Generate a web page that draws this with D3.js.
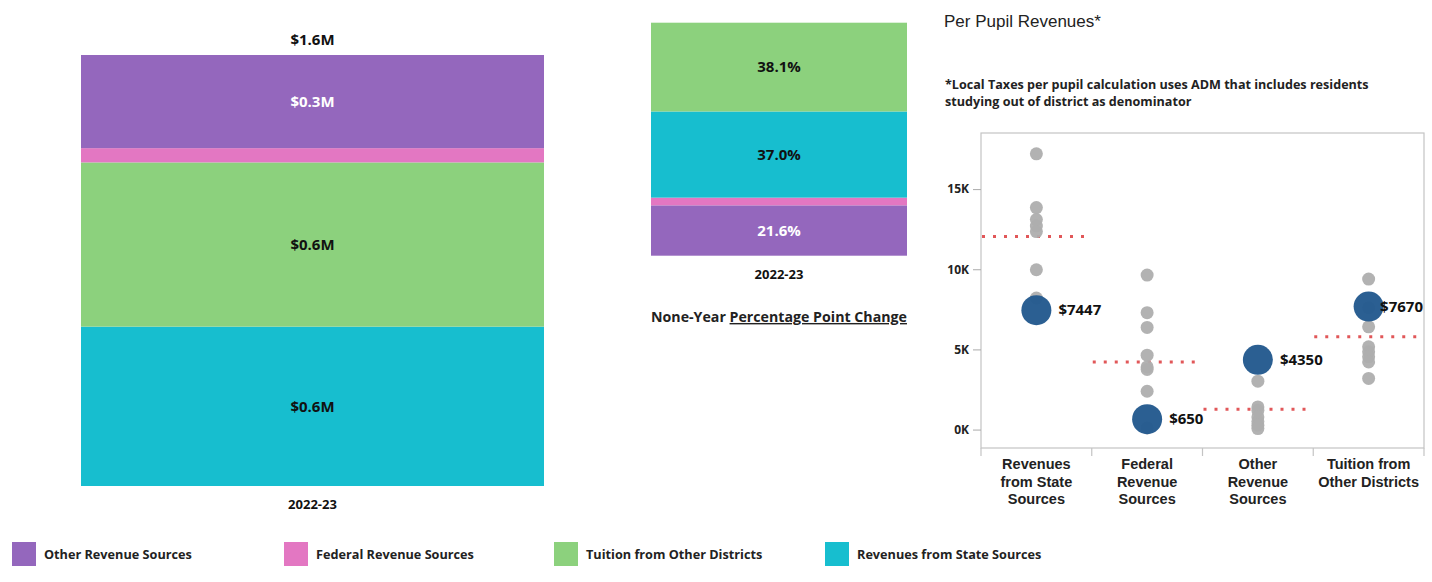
<!DOCTYPE html>
<meta charset="utf-8">
<style>
    body { margin: 0; background: #fff; }
    text { font-family: "Open Sans", Lato, sans-serif; font-weight: bold; }
</style>
<body>
<div id="d3_target"></div>
<script src="https://d3js.org/d3.v7.min.js"></script>
<script>
    // ---- data ----
    var sources = ["Other Revenue Sources", "Federal Revenue Sources", "Tuition from Other Districts", "Revenues from State Sources"];
    var colors = ["#9467bd", "#e377c2", "#8cd17d", "#17becf"];
    var amountsM = [0.346, 0.053, 0.610, 0.592];          // $M, 2022-23
    var shareLabels = ["21.6%", "", "38.1%", "37.0%"];
    var amountLabels = ["$0.3M", "", "$0.6M", "$0.6M"];
    var totalLabel = "$1.6M";
    var year = "2022-23";

    var ppCategories = ["Revenues from State Sources", "Federal Revenue Sources", "Other Revenue Sources", "Tuition from Other Districts"];
    var ppCategoryLines = [["Revenues", "from State", "Sources"], ["Federal", "Revenue", "Sources"], ["Other", "Revenue", "Sources"], ["Tuition from", "Other Districts"]];
    var peerState = [17200, 13850, 13100, 12700, 12350, 9970, 8200];
    var peerFederal = [9640, 7290, 6370, 4640, 3910, 3750, 2390, 100];
    var peerOther = [3020, 1410, 1200, 790, 500, 270, 60];
    var peerTuition = [9390, 7600, 6410, 5160, 4850, 4540, 4220, 3190];
    var districtValues = [7447, 650, 4350, 7670];
    var peerAverages = [12040, 4220, 1270, 5790];
    var yTicks = [0, 5000, 10000, 15000];

    var width = 1432, height = 582;
    var svg = d3.select("#d3_target").append("svg")
        .attr("width", width)
        .attr("height", height);

    // ---- left: stacked amounts ----
    var leftOrder = [3, 2, 1, 0]; // bottom to top: state, tuition, federal, other
    var yLeft = d3.scaleLinear().domain([0, d3.sum(amountsM)]).range([486, 55]);
    var cum = 0;
    var leftSegs = leftOrder.map(function (i) {
        var s = { i: i, y0: cum, y1: cum + amountsM[i] };
        cum += amountsM[i];
        return s;
    });
    var gl = svg.append("g");
    gl.selectAll("rect").data(leftSegs).enter().append("rect")
        .attr("x", 81).attr("width", 463)
        .attr("y", function (d) { return yLeft(d.y1); })
        .attr("height", function (d) { return yLeft(d.y0) - yLeft(d.y1); })
        .attr("fill", function (d) { return colors[d.i]; });
    gl.selectAll("text.seg").data(leftSegs).enter().append("text")
        .attr("class", "seg")
        .attr("x", 312.5)
        .attr("y", function (d) { return (yLeft(d.y0) + yLeft(d.y1)) / 2; })
        .attr("dy", "0.35em").attr("text-anchor", "middle")
        .style("font-size", "15px")
        .attr("fill", function (d) { return d.i === 0 ? "#fff" : "#111"; })
        .text(function (d) { return amountLabels[d.i]; });
    gl.append("text").attr("x", 312.5).attr("y", yLeft(cum) - 15).attr("dy", "0.35em")
        .attr("text-anchor", "middle").style("font-size", "15px").attr("fill", "#111").text(totalLabel);
    gl.append("text").attr("x", 312.5).attr("y", 504).attr("dy", "0.35em")
        .attr("text-anchor", "middle").style("font-size", "13px").attr("fill", "#111").text(year);

    // ---- middle: percent shares ----
    var midOrder = [0, 1, 3, 2]; // bottom to top: other, federal, state, tuition
    var totalM = d3.sum(amountsM);
    var yMid = d3.scaleLinear().domain([0, 1]).range([255.7, 22.7]);
    cum = 0;
    var midSegs = midOrder.map(function (i) {
        var s = { i: i, y0: cum, y1: cum + amountsM[i] / totalM };
        cum += amountsM[i] / totalM;
        return s;
    });
    var gm = svg.append("g");
    gm.selectAll("rect").data(midSegs).enter().append("rect")
        .attr("x", 651).attr("width", 256)
        .attr("y", function (d) { return yMid(d.y1); })
        .attr("height", function (d) { return yMid(d.y0) - yMid(d.y1); })
        .attr("fill", function (d) { return colors[d.i]; });
    gm.selectAll("text.seg").data(midSegs).enter().append("text")
        .attr("class", "seg")
        .attr("x", 779)
        .attr("y", function (d) { return (yMid(d.y0) + yMid(d.y1)) / 2; })
        .attr("dy", "0.35em").attr("text-anchor", "middle")
        .style("font-size", "15px")
        .attr("fill", function (d) { return d.i === 0 ? "#fff" : "#111"; })
        .text(function (d) { return shareLabels[d.i]; });
    gm.append("text").attr("x", 779).attr("y", 274).attr("dy", "0.35em")
        .attr("text-anchor", "middle").style("font-size", "13px").attr("fill", "#111").text(year);
    var sub = gm.append("text").attr("x", 779).attr("y", 317).attr("dy", "0.35em")
        .attr("text-anchor", "middle").style("font-size", "14.2px").attr("fill", "#222");
    sub.append("tspan").text("None-Year ");
    sub.append("tspan").style("text-decoration", "underline").text("Percentage Point Change");

    // ---- right: per pupil scatter ----
    svg.append("text").attr("x", 944).attr("y", 27)
        .style("font-family", "'Liberation Sans', Arial, sans-serif").style("font-weight", "normal")
        .style("font-size", "17px").attr("fill", "#222").text("Per Pupil Revenues*");
    var note = svg.append("text").attr("x", 945).attr("y", 89).style("font-size", "12.6px").attr("fill", "#222");
    note.append("tspan").attr("x", 945).text("*Local Taxes per pupil calculation uses ADM that includes residents");
    note.append("tspan").attr("x", 945).attr("dy", 17).text("studying out of district as denominator");

    var fx0 = 981, fx1 = 1424, fy0 = 133, fy1 = 448;
    var x = d3.scaleBand().domain(ppCategories).range([fx0, fx1]);
    var y = d3.scaleLinear().domain([-1150, 18500]).range([fy1, fy0]);
    var gs = svg.append("g");

    gs.append("rect").attr("x", fx0).attr("y", fy0).attr("width", fx1 - fx0).attr("height", fy1 - fy0)
        .attr("fill", "none").attr("stroke", "#c4c4c4").attr("stroke-width", 1.2);

    var yAxis = gs.append("g").attr("transform", "translate(" + fx0 + ",0)")
        .call(d3.axisLeft(y).tickValues(yTicks).tickSize(8).tickPadding(4)
            .tickFormat(function (d) { return (d / 1000) + "K"; }));
    yAxis.select(".domain").remove();
    yAxis.selectAll("line").attr("stroke", "#aaa");
    yAxis.selectAll("text").style("font-family", "'Open Sans', sans-serif").style("font-weight", "bold")
        .style("font-size", "12px").attr("fill", "#222");

    // x band boundaries
    var bounds = ppCategories.map(function (c) { return x(c); }).concat([fx1]);
    gs.selectAll("line.xb").data(bounds).enter().append("line").attr("class", "xb")
        .attr("x1", function (d) { return d; }).attr("x2", function (d) { return d; })
        .attr("y1", fy1).attr("y2", fy1 + 8).attr("stroke", "#c4c4c4").attr("stroke-width", 1.2);
    ppCategories.forEach(function (c, i) {
        var t = gs.append("text")
            .attr("x", x(c) + x.bandwidth() / 2).attr("y", 469)
            .attr("text-anchor", "middle")
            .style("font-family", "'Liberation Sans', Arial, sans-serif")
            .style("font-size", "14.5px").attr("fill", "#222");
        ppCategoryLines[i].forEach(function (l, j) {
            t.append("tspan").attr("x", x(c) + x.bandwidth() / 2).attr("dy", j === 0 ? 0 : 17.5).text(l);
        });
    });

    // averages
    gs.selectAll("line.avg").data(peerAverages).enter().append("line").attr("class", "avg")
        .attr("x1", function (d, i) { return x(ppCategories[i]) + 1; })
        .attr("x2", function (d, i) { return x(ppCategories[i]) + x.bandwidth(); })
        .attr("y1", function (d) { return y(d); }).attr("y2", function (d) { return y(d); })
        .attr("stroke", "#e15759").attr("stroke-width", 3).attr("stroke-dasharray", "3,8");

    // peers
    var peers = [peerState, peerFederal, peerOther, peerTuition];
    var peerPts = [];
    peers.forEach(function (arr, i) {
        arr.forEach(function (v) { peerPts.push({ c: ppCategories[i], v: v }); });
    });
    gs.selectAll("circle.peer").data(peerPts).enter().append("circle").attr("class", "peer")
        .attr("cx", function (d) { return x(d.c) + x.bandwidth() / 2; })
        .attr("cy", function (d) { return y(d.v); })
        .attr("r", 6.5).attr("fill", "#aeaeae").attr("fill-opacity", 0.95);

    // district
    gs.selectAll("circle.dist").data(districtValues).enter().append("circle").attr("class", "dist")
        .attr("cx", function (d, i) { return x(ppCategories[i]) + x.bandwidth() / 2; })
        .attr("cy", function (d) { return y(d); })
        .attr("r", 15).attr("fill", "#245a8e").attr("fill-opacity", 0.97);
    gs.selectAll("text.dist").data(districtValues).enter().append("text").attr("class", "dist")
        .attr("y", function (d) { return y(d); }).attr("dy", "0.35em")
        .style("font-size", "15px").attr("fill", "#111")
        .text(function (d) { return "$" + d; })
        .attr("x", function (d, i) {
            var cx = x(ppCategories[i]) + x.bandwidth() / 2;
            var w = this.getComputedTextLength();
            return Math.min(cx + 22, fx1 - w - 1);
        });

    // ---- legend ----
    var lg = svg.append("g").selectAll("g").data(sources).enter().append("g")
        .attr("transform", function (d, i) { return "translate(" + [12, 284, 554, 825][i] + ",542)"; });
    lg.append("rect").attr("width", 24).attr("height", 24).attr("fill", function (d, i) { return colors[i]; });
    lg.append("text").attr("x", 32).attr("y", 13).attr("dy", "0.35em")
        .style("font-size", "12.7px").attr("fill", "#222").text(function (d) { return d; });
</script>
</body>
